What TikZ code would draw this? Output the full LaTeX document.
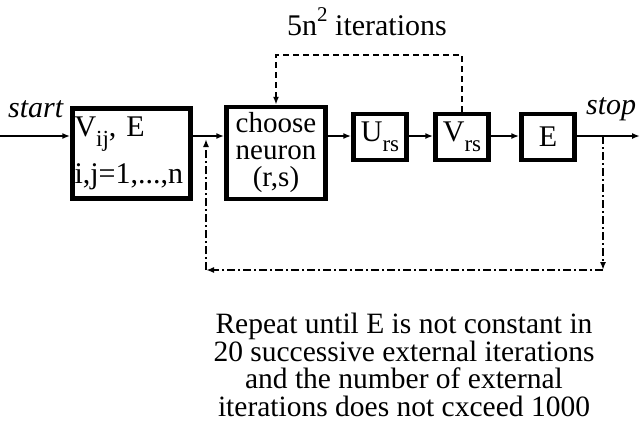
\documentclass[tikz,border=0pt]{standalone}
\usepackage{fontspec}
\setmainfont{Liberation Serif}
\usetikzlibrary{arrows.meta}
\newcommand\mysub[1]{\raisebox{-0.32em}{\fontsize{23}{23}\selectfont #1}}
\newcommand\mysup[1]{\raisebox{0.45em}{\fontsize{21}{21}\selectfont #1}}
\begin{document}
\begin{tikzpicture}[x=1pt,y=-1pt,
  blk/.style={draw, line width=4.5pt, inner sep=0pt, font=\fontsize{30}{26}\selectfont},
  conn/.style={line width=2pt, -{Latex[length=8pt,width=6pt]}},
  innerloop/.style={line width=2.5pt, dash pattern=on 6pt off 4pt, -{Latex[length=8pt,width=6pt]}},
  outerloop/.style={line width=2pt, dash pattern=on 8pt off 3pt on 2pt off 3pt, -{Latex[length=8pt,width=6pt]}},
  lbl/.style={inner sep=0pt, font=\fontsize{30}{26}\selectfont}]
\useasboundingbox[fill=white] (0,0) rectangle (640,432);
% row line and end points
\coordinate (ln) at (0,136);
\coordinate (startpt) at (0,136);
\coordinate (stoppt) at (640,136);
\coordinate (topy) at (0,55);
\coordinate (tap) at (603,136);
\coordinate (botR) at (603,270);
\coordinate (botL) at (206,270);
\coordinate (join) at (206,139);
% blocks
\node[blk, minimum width=118pt, minimum height=90pt, align=left, text width=114pt] (init) at (131.5,153.5)
  {V\mysub{ij}, E\\[12pt]i,j=1,...,n};
\node[blk, minimum width=99pt, minimum height=92pt, align=center, font=\fontsize{29}{27}\selectfont] (choose) at (276,153)
  {choose\\neuron\\(r,s)};
\node[blk, minimum width=53pt, minimum height=46pt] (urs) at (380,137) {U\mysub{rs}};
\node[blk, minimum width=53pt, minimum height=46pt] (vrs) at (462,137) {V\mysub{rs}};
\node[blk, minimum width=53pt, minimum height=46pt] (en) at (548,137) {E};
% labels
\node[lbl, font=\fontsize{30}{26}\selectfont\itshape, anchor=base west] (start) at (8,117) {start};
\node[lbl, font=\fontsize{30}{26}\selectfont\itshape, anchor=base west] (stop) at (586,114) {stop};
\node[lbl, anchor=base] (iter) at (367,35) {5n\mysup{2} iterations};
\node[lbl, align=center, anchor=north, font=\fontsize{29.5}{27.5}\selectfont] (cond) at (404,313)
  {Repeat until E is not constant in\\20 successive external iterations\\and the number of external\\iterations does not cxceed 1000};
% connectors
\draw[conn] (startpt) -- (init.west |- ln);
\draw[conn] (init.east |- ln) -- (choose.west |- ln);
\draw[conn] (choose.east |- ln) -- (urs.west |- ln);
\draw[conn] (urs.east |- ln) -- (vrs.west |- ln);
\draw[conn] (vrs.east |- ln) -- (en.west |- ln);
\draw[conn] (en.east |- ln) -- (stoppt);
\draw[innerloop] (vrs.north) -- (vrs.north |- topy) -| (choose.north);
\draw[outerloop] (tap) -- (botR);
\draw[outerloop] (botR) -- (botL);
\draw[outerloop] (botL) -- (join);
\end{tikzpicture}
\end{document}
